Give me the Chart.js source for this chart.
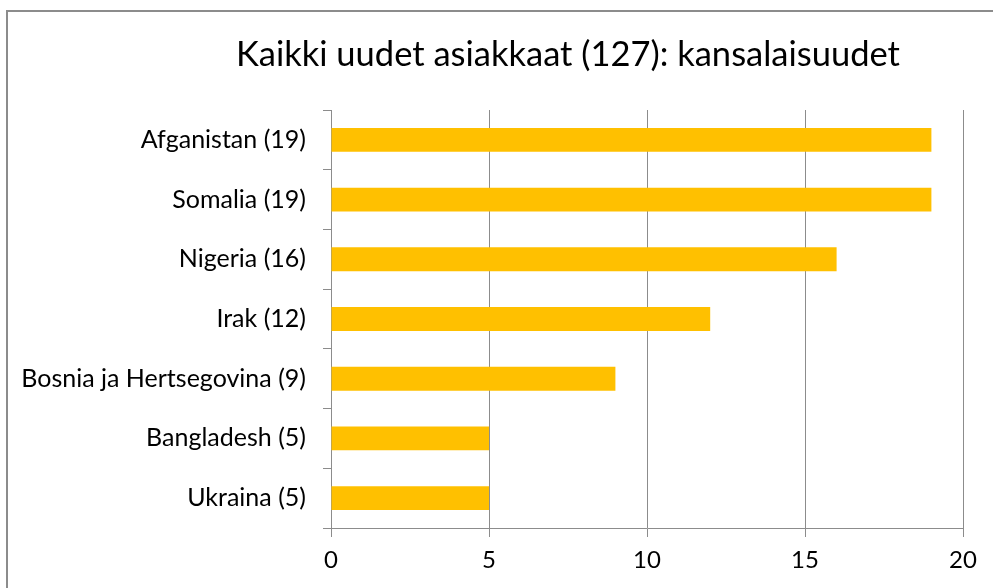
<!DOCTYPE html>
<html>
<head>
<meta charset="utf-8">
<script src="https://cdn.jsdelivr.net/npm/chart.js@4"></script>
<style>
  html, body { margin: 0; padding: 0; background: #fff; overflow: hidden; }
  #wrap { position: relative; width: 993px; height: 588px; }
  #frame { position: absolute; left: 6px; top: 10px; width: 1200px; height: 800px;
           border-top: 2px solid #8c8c8c; border-left: 2px solid #8c8c8c; }
  #chart { position: absolute; left: 0; top: 0; }
</style>
</head>
<body>
<div id="wrap">
  <div id="frame"></div>
  <canvas id="chart" width="993" height="588"></canvas>
</div>
<script>
const otsikko = 'Kaikki uudet asiakkaat (127): kansalaisuudet';
const maat = ['Afganistan (19)', 'Somalia (19)', 'Nigeria (16)', 'Irak (12)',
              'Bosnia ja Hertsegovina (9)', 'Bangladesh (5)', 'Ukraina (5)'];
const maara = [19, 19, 16, 12, 9, 5, 5];
const xTicks = [0, 5, 10, 15, 20];

const fontti = 'Lato, "Open Sans", sans-serif';
const viiva = '#8c8c8c';

// otsikko ei ole keskellä koko kuvaa, joten piirretään se itse
const otsikkoPlugin = {
  id: 'otsikko',
  afterDraw(chart) {
    const ctx = chart.ctx;
    ctx.save();
    ctx.font = '34.5px ' + fontti;
    ctx.fillStyle = '#000';
    ctx.textAlign = 'center';
    ctx.textBaseline = 'middle';
    ctx.fillText(otsikko, 568, 55);
    ctx.restore();
  }
};

new Chart(document.getElementById('chart'), {
  type: 'bar',
  data: {
    labels: maat,
    datasets: [{
      data: maara,
      backgroundColor: '#FFC000',
      borderWidth: 0,
      barPercentage: 0.4,
      categoryPercentage: 1
    }]
  },
  options: {
    indexAxis: 'y',
    responsive: false,
    animation: false,
    layout: { padding: { left: 0, right: 30, top: 110, bottom: 0 } },
    plugins: {
      legend: { display: false },
      tooltip: { enabled: false },
      title: { display: false }
    },
    scales: {
      x: {
        min: xTicks[0],
        max: xTicks[xTicks.length - 1],
        afterBuildTicks: s => { s.ticks = xTicks.map(v => ({ value: v })); },
        afterFit: s => { s.height = 60; },
        grid: { color: viiva, lineWidth: 1, tickLength: 9, drawTicks: true },
        border: { color: viiva, width: 1 },
        ticks: { color: '#000', padding: 9, font: { family: fontti, size: 24 } }
      },
      y: {
        offset: true,
        afterFit: s => { s.width = 331; },
        grid: { offset: true, drawOnChartArea: false, drawTicks: true, tickLength: 8, color: viiva },
        border: { color: viiva, width: 1 },
        ticks: { color: '#000', padding: 17, font: { family: fontti, size: 25 } }
      }
    }
  },
  plugins: [otsikkoPlugin]
});
</script>
</body>
</html>
